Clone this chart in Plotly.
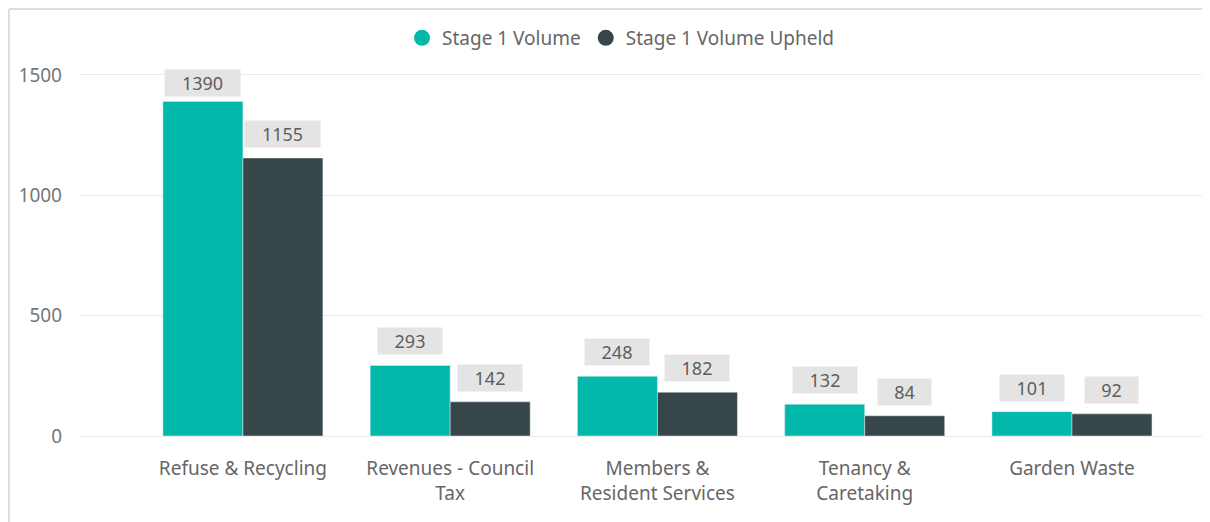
import plotly.graph_objects as go

categories = ["Refuse & Recycling", "Revenues - Council<br>Tax", "Members &<br>Resident Services",
              "Tenancy &<br>Caretaking", "Garden Waste"]
series_names = ["Stage 1 Volume", "Stage 1 Volume Upheld"]
volume = [1390, 293, 248, 132, 101]
upheld = [1155, 142, 182, 84, 92]
y_ticks = [0, 500, 1000, 1500]

colors = ["#01B8AA", "#374649"]
# page body has an 8px margin, so the figure is 8px smaller than the window
W, H = 1202, 514
ML, MR, MT, MB = 72, 0, 52, 86
Y_MAX = 1562
bargap = 0.228
bar_w = (1 - bargap) / 2
BOX_H = 26

idx = list(range(len(categories)))
pw = W - ML - MR
ph = H - MT - MB

fig = go.Figure()
for k, (name, vals) in enumerate(zip(series_names, [volume, upheld])):
    fig.add_trace(go.Bar(x=idx, y=vals, name=name, marker_color=colors[k],
                         showlegend=False, hoverinfo="y"))
    fig.add_trace(go.Scatter(x=[None], y=[None], mode="markers", name=name,
                             marker=dict(symbol="circle", size=18, color=colors[k])))

annotations = []
for k, vals in enumerate([volume, upheld]):
    off = (k - 0.5) * bar_w
    for i, v in enumerate(vals):
        t = str(v)
        # keep label box inside the plot area (like Power BI does)
        room = ph - 11 - BOX_H - v * ph / Y_MAX
        annotations.append(dict(
            x=i + off, y=v, xref="x", yref="y", text=t, showarrow=False,
            yanchor="bottom", yshift=min(10, room), bgcolor="#e4e4e4", borderpad=0,
            width=11 * len(t) + 31, height=BOX_H,
            font=dict(family="Noto Sans", size=18, color="#5e5e5e")))

fig.update_layout(
    width=W, height=H, margin=dict(l=ML, r=MR, t=MT, b=MB),
    paper_bgcolor="white", plot_bgcolor="white",
    barmode="group", bargap=bargap, bargroupgap=0,
    font=dict(family="Noto Sans", size=19, color="#666666"),
    legend=dict(orientation="h", x=(613 - ML) / pw, xanchor="center", y=(H - MB - 30) / ph,
                yanchor="middle", font=dict(size=19, color="#666666"),
                itemwidth=30, tracegroupgap=0, bgcolor="rgba(0,0,0,0)"),
    annotations=annotations,
    shapes=[
        dict(type="line", xref="paper", yref="paper", x0=(1 - ML) / pw, x1=(1 - ML) / pw,
             y0=(H - MB - 1) / ph, y1=-MB / ph, line=dict(color="#dddddd", width=2)),
        dict(type="line", xref="paper", yref="paper", x0=(1 - ML) / pw, x1=(W - ML) / pw,
             y0=(H - MB - 1) / ph, y1=(H - MB - 1) / ph, line=dict(color="#dddddd", width=2)),
    ],
)
fig.update_xaxes(range=[-0.786, 4.666], tickvals=idx, ticktext=categories,
                 showgrid=False, zeroline=False, showline=False, ticks="",
                 ticklabelstandoff=19, tickfont=dict(size=19, color="#666666"))
fig.update_yaxes(range=[0, Y_MAX], tickvals=y_ticks, showgrid=True, gridcolor="#ebebeb",
                 gridwidth=1, zeroline=True, zerolinecolor="#ebebeb", zerolinewidth=1,
                 ticks="", ticklabelstandoff=17, tickfont=dict(size=19, color="#777777"))
fig.write_html("out.html")
